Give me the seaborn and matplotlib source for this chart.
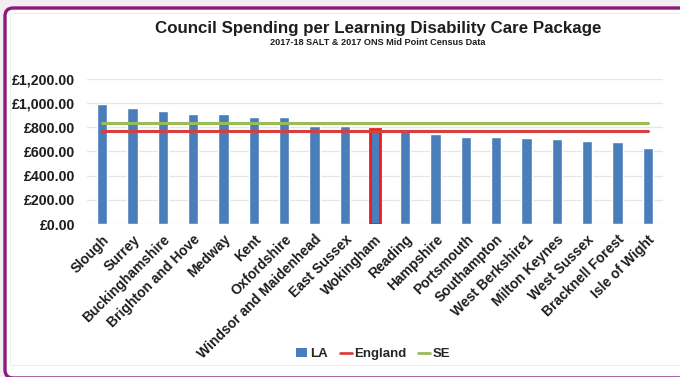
import matplotlib
matplotlib.use("Agg")
import matplotlib.pyplot as plt
from matplotlib.patches import FancyBboxPatch, Rectangle, Patch
from matplotlib.lines import Line2D
from matplotlib.ticker import FuncFormatter, MultipleLocator
import seaborn as sns
import pandas as pd

# Spend per learning disability care package, by local authority (South East)
authorities = [
    "Slough", "Surrey", "Buckinghamshire", "Brighton and Hove", "Medway",
    "Kent", "Oxfordshire", "Windsor and Maidenhead", "East Sussex",
    "Wokingham", "Reading", "Hampshire", "Portsmouth", "Southampton",
    "West Berkshire1", "Milton Keynes", "West Sussex", "Bracknell Forest",
    "Isle of Wight",
]
spend = [995, 960, 935, 910, 908, 888, 887, 812, 810, 788, 768, 746,
         716, 716, 715, 700, 686, 676, 632]
england_avg = 768
se_avg = 832
highlighted = "Wokingham"

BLUE = "#4a7ebb"
RED = "#d8403f"
GREEN = "#9bbb59"
PURPLE = "#8a1b7b"
TEXT = "#1e1e1e"

sns.set_theme(style="white")
plt.rcParams["font.family"] = ["Liberation Sans", "DejaVu Sans"]
plt.rcParams["font.weight"] = "bold"

W, H = 680, 377
fig = plt.figure(figsize=(W / 100, H / 100), dpi=100)
fig.patch.set_facecolor("#f3eef4")

# rounded card behind the chart
card = FancyBboxPatch((5 / W, 1 - 378 / H), 700 / W, 370 / H,
                      boxstyle="round,pad=0,rounding_size=0.012",
                      transform=fig.transFigure, facecolor="white",
                      edgecolor=PURPLE, linewidth=2.4, zorder=0,
                      mutation_aspect=W / H)
fig.patches.append(card)
fig.patches.append(Rectangle((10 / W, 1 - 365 / H), 680 / W, 352 / H,
                             transform=fig.transFigure, facecolor="none",
                             edgecolor="#eeeeee", linewidth=0.8, zorder=0.5))

ax = fig.add_axes([87 / W, 1 - 224 / H, 576 / W, 145 / H])
ax.set_zorder(2)
ax.set_facecolor("none")

df = pd.DataFrame({"authority": authorities, "spend": spend})
sns.barplot(data=df, x="authority", y="spend", color=BLUE, width=0.34,
            saturation=1, ax=ax, zorder=3)

# outline the highlighted authority
for patch, name in zip(ax.patches, authorities):
    if name == highlighted:
        patch.set_edgecolor("#ee1c1c")
        patch.set_linewidth(2.0)

lines = pd.DataFrame({
    "authority": authorities * 2,
    "value": [england_avg] * len(authorities) + [se_avg] * len(authorities),
    "series": ["England"] * len(authorities) + ["SE"] * len(authorities),
})
sns.lineplot(data=lines, x="authority", y="value", hue="series",
             palette={"England": RED, "SE": GREEN}, linewidth=2.2,
             ax=ax, zorder=4, legend=False, sort=False)

ax.set_xlim(-0.5, len(authorities) - 0.5)
ax.set_ylim(0, 1200)
ax.yaxis.set_major_locator(MultipleLocator(200))
ax.yaxis.set_major_formatter(FuncFormatter(lambda v, _: f"£{v:,.2f}"))
ax.grid(axis="y", color="#e6e6e6", linewidth=0.9, zorder=0)
for s in ax.spines.values():
    s.set_visible(False)
ax.tick_params(axis="both", length=0, colors=TEXT)
ax.tick_params(axis="y", labelsize=10.2, pad=8.5)
ax.tick_params(axis="x", labelsize=10, pad=6)
for lbl in ax.get_yticklabels():
    lbl.set_fontweight("bold")
ax.set_xticks(range(len(authorities)))
ax.set_xticklabels(authorities, rotation=45, ha="right", va="top",
                   rotation_mode="anchor", fontweight="bold")
ax.set_xlabel("")
ax.set_ylabel("")

fig.text(378 / W, 1 - 28 / H,
         "Council Spending per Learning Disability Care Package",
         ha="center", va="center", fontsize=12.2, fontweight="bold",
         color=TEXT)
fig.text(378 / W, 1 - 42.5 / H,
         "2017-18 SALT & 2017 ONS Mid Point Census Data",
         ha="center", va="center", fontsize=6.6, fontweight="bold",
         color=TEXT)

handles = [
    Patch(facecolor=BLUE, edgecolor="none", label="LA"),
    Line2D([], [], color=RED, linewidth=2, label="England"),
    Line2D([], [], color=GREEN, linewidth=2, label="SE"),
]
fig.legend(handles=handles, loc="center", bbox_to_anchor=(373 / W, 1 - 354 / H),
           ncol=3, frameon=False, handlelength=0.9,
           handleheight=0.7, handletextpad=0.2, columnspacing=0.9,
           prop={"weight": "bold", "size": 9.5})

fig.savefig("out.png", dpi=100, facecolor=fig.get_facecolor())
